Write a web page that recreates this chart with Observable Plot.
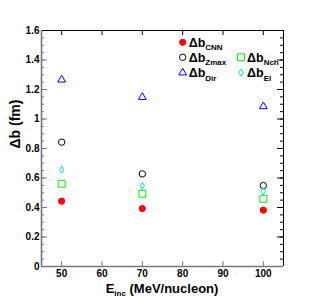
<!DOCTYPE html>
<html><head><meta charset="utf-8">
<script src="https://cdn.jsdelivr.net/npm/d3@7"></script>
<script src="https://cdn.jsdelivr.net/npm/@observablehq/plot@0.6"></script>
<style>body{margin:0;background:#fff}</style>
</head><body><div id="chart"></div>
<script>
const energies = [50, 70, 100];
const dbCNN  = [0.443, 0.393, 0.382];
const dbZmax = [0.843, 0.628, 0.549];
const dbDir  = [1.266, 1.148, 1.085];
const dbNch  = [0.561, 0.493, 0.459];
const dbEl   = [0.656, 0.547, 0.510];
const seriesLabels = ["CNN", "Zmax", "Dir", "Nch", "El"];
const yMajor = [0, 0.2, 0.4, 0.6, 0.8, 1.0, 1.2, 1.4, 1.6];
const yMinor = d3.range(0, 33).map(i => i * 0.05);
const xMajor = [50, 60, 70, 80, 90, 100];

const series = [
  {label: "CNN",  values: dbCNN,  symbol: "circle",   color: "#ff0000", filled: true,  r: 3.1, col: 0, row: 0},
  {label: "Zmax", values: dbZmax, symbol: "circle",   color: "#000000", filled: false, r: 3.2, col: 0, row: 1},
  {label: "Dir",  values: dbDir,  symbol: "triangle", color: "#0000ff", filled: false, r: 2.9, col: 0, row: 2},
  {label: "Nch",  values: dbNch,  symbol: "square",   color: "#00ee00", filled: false, r: 3.9, col: 1, row: 1},
  {label: "El",   values: dbEl,   symbol: "diamond",  color: "#00e5ff", filled: false, r: 2.2, col: 1, row: 2}
];

const W = 315, H = 306, mL = 41, mR = 32, mT = 30, mB = 40;
const fw = W - mL - mR, fh = H - mT - mB;

const plot = Plot.plot({
  width: W, height: H,
  marginLeft: mL, marginRight: mR, marginTop: mT, marginBottom: mB,
  style: {fontFamily: "'Liberation Sans', Arial, sans-serif", fontSize: "10px", fontWeight: "bold", background: "#fff", overflow: "visible"},
  x: {domain: [45, 105]},
  y: {domain: [0, 1.6]},
  marks: [
    // inward ticks
    Plot.tickY(yMajor, {y: d => d, insetRight: fw - 6, stroke: "#777"}),
    Plot.tickY(yMinor, {y: d => d, insetRight: fw - 3, stroke: "#777"}),
    Plot.tickY(yMajor, {y: d => d, insetLeft: fw - 6, stroke: "#000"}),
    Plot.tickY(yMinor, {y: d => d, insetLeft: fw - 3, stroke: "#000"}),
    Plot.tickX(xMajor, {x: d => d, insetTop: fh - 5, stroke: "#777"}),
    Plot.tickX(xMajor, {x: d => d, insetBottom: fh - 5, stroke: "#000"}),
    // frame
    Plot.ruleY([1.6], {stroke: "#000"}),
    Plot.ruleX([105], {stroke: "#000"}),
    Plot.ruleY([0], {stroke: "#777", strokeWidth: 1.6}),
    Plot.ruleX([45], {stroke: "#777", strokeWidth: 1.6}),
    // tick labels
    Plot.axisY(yMajor, {tickSize: 0, tickPadding: 2, tickFormat: d => String(+d.toFixed(1)), label: null}),
    Plot.axisX(xMajor, {tickSize: 0, tickPadding: 3, label: null}),
    Plot.text(["Δb (fm)"], {frameAnchor: "left", dx: -26, rotate: -90, fontSize: 14, fontWeight: "bold"}),
    // data
    ...series.map(s => Plot.dot(energies, {
      x: d => d, y: (d, i) => s.values[i], symbol: s.symbol, r: s.r,
      stroke: s.color, fill: s.filled ? s.color : "none", strokeWidth: 1
    }))
  ]
});

const svg = d3.select(plot);
// x axis title with subscript
const xt = svg.append("text")
  .attr("x", mL + fw / 2).attr("y", 293)
  .attr("text-anchor", "middle")
  .attr("font-size", 13).attr("font-weight", "bold").attr("fill", "#000");
xt.append("tspan").text("E");
xt.append("tspan").attr("font-size", 8).attr("dy", 3).text("inc");
xt.append("tspan").attr("dy", -3).text(" (MeV/nucleon)");

// legend
const symMap = {circle: d3.symbolCircle, triangle: d3.symbolTriangle, square: d3.symbolSquare, diamond: d3.symbolDiamond};
const colX = [182.7, 241], rowY = [42.3, 57.3, 72.7];
const lg = svg.append("g").attr("text-anchor", "start");
series.forEach(s => {
  const cx = colX[s.col], cy = rowY[s.row];
  lg.append("path")
    .attr("d", d3.symbol(symMap[s.symbol], Math.PI * s.r * s.r)())
    .attr("transform", `translate(${cx},${cy})`)
    .attr("fill", s.filled ? s.color : "none").attr("stroke", s.color).attr("stroke-width", 1);
  const t = lg.append("text").attr("x", cx + 6).attr("y", cy + 4.5)
    .attr("text-anchor", "start")
    .attr("font-weight", "bold").attr("fill", "#000");
  t.append("tspan").attr("font-size", 12.5).text("Δb");
  t.append("tspan").attr("font-size", 8).attr("dy", 3.5).text(s.label);
});

document.getElementById("chart").appendChild(plot);
</script>
</body></html>
